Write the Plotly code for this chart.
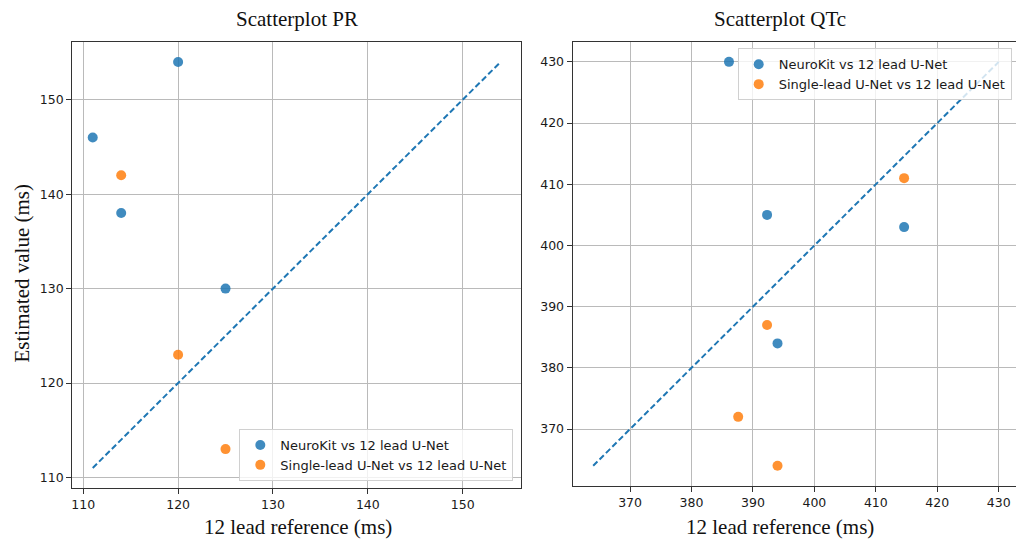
import plotly.graph_objects as go

# PR interval (ms): 12-lead reference vs estimated value
pr_neurokit_ref = [120, 111, 114, 125]
pr_neurokit_est = [154, 146, 138, 130]
pr_single_ref = [114, 120, 125]
pr_single_est = [142, 123, 113]

# QTc interval (ms): 12-lead reference vs estimated value
qtc_neurokit_ref = [386.1, 392.3, 414.6, 394.0]
qtc_neurokit_est = [430, 405, 403, 384]
qtc_single_ref = [414.6, 392.3, 387.6, 394.0]
qtc_single_est = [411, 387, 372, 364]

titles = ["Scatterplot PR", "Scatterplot QTc"]
series_names = ["NeuroKit vs 12 lead U-Net", "Single-lead U-Net vs 12 lead U-Net"]
x_title = "12 lead reference (ms)"
y_title = "Estimated value (ms)"

BLUE = "#1f77b4"
ORANGE = "#ff7f0e"
SERIF = "Liberation Serif, Times New Roman, serif"
SANS = "DejaVu Sans, sans-serif"


def identity_span(*arrays):
    vals = [v for arr in arrays for v in arr]
    return [min(vals), max(vals)]


fig = go.Figure()

panels = [
    (pr_neurokit_ref, pr_neurokit_est, pr_single_ref, pr_single_est, "x", "y", "legend"),
    (qtc_neurokit_ref, qtc_neurokit_est, qtc_single_ref, qtc_single_est, "x2", "y2", "legend2"),
]

for nk_x, nk_y, sl_x, sl_y, xa, ya, leg in panels:
    fig.add_trace(go.Scatter(
        x=nk_x, y=nk_y, mode="markers", name=series_names[0],
        marker=dict(color=BLUE, size=10, opacity=0.85),
        xaxis=xa, yaxis=ya, legend=leg,
    ))
    fig.add_trace(go.Scatter(
        x=sl_x, y=sl_y, mode="markers", name=series_names[1],
        marker=dict(color=ORANGE, size=10, opacity=0.85),
        xaxis=xa, yaxis=ya, legend=leg,
    ))
    span = identity_span(nk_x, nk_y, sl_x, sl_y)
    fig.add_trace(go.Scatter(
        x=span, y=span, mode="lines", showlegend=False,
        line=dict(color=BLUE, width=2, dash="6px,3px"),
        xaxis=xa, yaxis=ya, hoverinfo="skip",
    ))

axis_style = dict(
    showgrid=True, gridcolor="#bababa", gridwidth=1,
    showline=True, linecolor="#333333", linewidth=1.3,
    ticks="outside", ticklen=5, tickcolor="#333333", tickwidth=1,
    tickfont=dict(family=SANS, size=12.5, color="#1a1a1a"),
    zeroline=False, dtick=10,
)

fig.update_layout(
    width=1016, height=542,
    margin=dict(l=0, r=0, t=0, b=0),
    paper_bgcolor="white", plot_bgcolor="white",
    xaxis=dict(domain=[0.0712, 0.5128], range=[108.85, 156.15], anchor="y",
               mirror=True, tick0=110, **axis_style),
    yaxis=dict(domain=[0.0991, 0.9231], range=[108.85, 156.15], anchor="x",
               mirror=True, tick0=110, **axis_style),
    xaxis2=dict(domain=[0.5637, 1.0], range=[360.67, 432.81], anchor="y2",
                mirror=True, tick0=370, **axis_style),
    yaxis2=dict(domain=[0.1033, 0.922], range=[360.7, 433.2], anchor="x2",
                mirror=False, tick0=370, **axis_style),
    legend=dict(
        x=513.3 / 1016, xanchor="right", y=(542 - 481) / 542, yanchor="bottom",
        bgcolor="rgba(255,255,255,0.8)", bordercolor="#d0d0d0", borderwidth=1,
        font=dict(family=SANS, size=13, color="#1a1a1a"),
    ),
    legend2=dict(
        x=1011.7 / 1016, xanchor="right", y=(542 - 48.3) / 542, yanchor="top",
        bgcolor="rgba(255,255,255,0.8)", bordercolor="#d0d0d0", borderwidth=1,
        font=dict(family=SANS, size=13, color="#1a1a1a"),
    ),
)

annotations = [
    dict(text=titles[0], x=297 / 1016, y=1 - 19 / 542),
    dict(text=titles[1], x=780 / 1016, y=1 - 19 / 542),
    dict(text=x_title, x=298 / 1016, y=1 - 527 / 542),
    dict(text=x_title, x=780 / 1016, y=1 - 527 / 542),
    dict(text=y_title, x=21 / 1016, y=1 - 273.5 / 542, textangle=-90),
]
for a in annotations:
    fig.add_annotation(
        xref="paper", yref="paper", showarrow=False,
        xanchor="center", yanchor="middle",
        font=dict(family=SERIF, size=21, color="#111111"), **a,
    )

fig.write_html("out.html")
